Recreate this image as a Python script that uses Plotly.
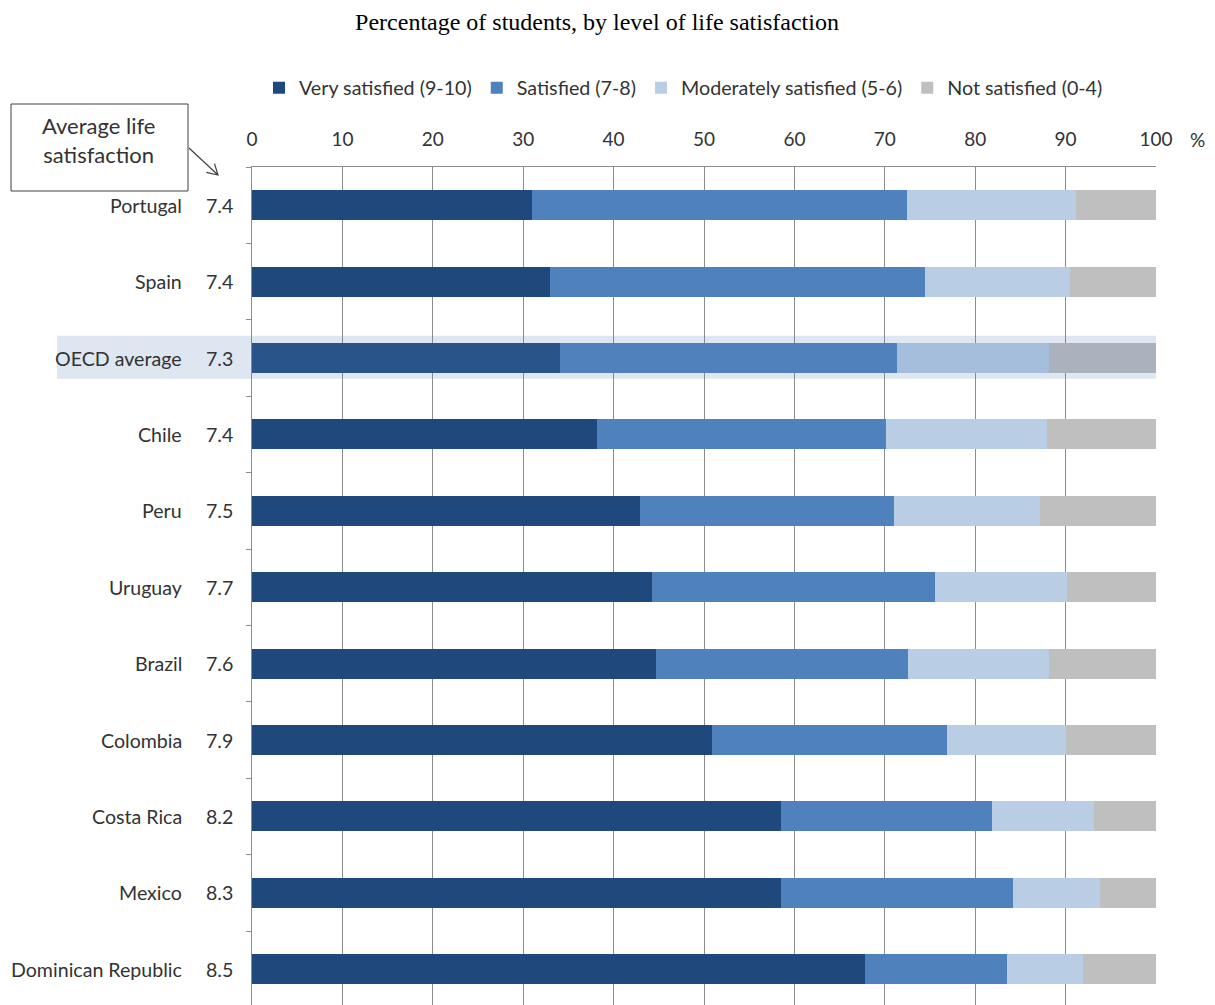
import plotly.graph_objects as go

countries = ["Portugal", "Spain", "OECD average", "Chile", "Peru", "Uruguay",
             "Brazil", "Colombia", "Costa Rica", "Mexico", "Dominican Republic"]
avg_satisfaction = ["7.4", "7.4", "7.3", "7.4", "7.5", "7.7", "7.6", "7.9", "8.2", "8.3", "8.5"]

very_satisfied = [31.0, 33.0, 34.1, 38.2, 42.9, 44.3, 44.7, 50.9, 58.5, 58.5, 67.8]
satisfied = [41.4, 41.4, 37.2, 31.9, 28.1, 31.2, 27.9, 26.0, 23.4, 25.7, 15.7]
moderately_satisfied = [18.7, 16.1, 16.9, 17.8, 16.2, 14.7, 15.6, 13.1, 11.2, 9.6, 8.4]
not_satisfied = [8.9, 9.5, 11.8, 12.1, 12.8, 9.8, 11.8, 10.0, 6.9, 6.2, 8.1]

series_names = ["Very satisfied (9-10)", "Satisfied (7-8)",
                "Moderately satisfied (5-6)", "Not satisfied (0-4)"]
series_values = [very_satisfied, satisfied, moderately_satisfied, not_satisfied]
colors = ["#1f497d", "#4f81bd", "#b9cde5", "#bfbfbf"]

x_ticks = [0, 10, 20, 30, 40, 50, 60, 70, 80, 90, 100]

# page has an 8px body margin: figure is drawn at page offset (8, 8)
OFF = 8
W, H = 1215 - OFF, 1005 - OFF
L = 252 - OFF
T = 167 - OFF
R = W - (1156 - OFF)
B = 0
PW, PH = W - L - R, H - T - B
ROW = 76.4


def px_x(p):  # page pixel -> paper x
    return (p - OFF - L) / PW


def px_y(p):  # page pixel -> paper y
    return (H - B - (p - OFF)) / PH


FONT = "Lato, 'Open Sans', sans-serif"
TXT = "#333333"

fig = go.Figure()
for name, vals, col in zip(series_names, series_values, colors):
    fig.add_trace(go.Bar(
        y=countries, x=vals, name=name, orientation="h",
        marker=dict(color=col, line=dict(width=0)),
    ))

annotations = []
for c, v in zip(countries, avg_satisfaction):
    annotations.append(dict(x=px_x(184), y=c, xref="paper", yref="y", text=c,
                            showarrow=False, xanchor="right", yanchor="middle",
                            font=dict(family=FONT, size=19.6, color=TXT)))
    annotations.append(dict(x=px_x(235), y=c, xref="paper", yref="y", text=v,
                            showarrow=False, xanchor="right", yanchor="middle",
                            font=dict(family=FONT, size=19.6, color=TXT)))

annotations.append(dict(x=px_x(1197), y=px_y(140), xref="paper", yref="paper", text="%",
                        showarrow=False, xanchor="center", yanchor="middle",
                        font=dict(family=FONT, size=19, color=TXT)))
annotations.append(dict(x=px_x(98), y=px_y(140), xref="paper", yref="paper",
                        text="Average life<br>satisfaction",
                        showarrow=False, xanchor="center", yanchor="middle",
                        font=dict(family=FONT, size=22, color=TXT)))

# arrow from box to values column
tail = (189, 148)
tip = (218, 175)
arm1 = (214.5, 163.6)
arm2 = (206.3, 172.3)
path = (f"M {px_x(tail[0])},{px_y(tail[1])} L {px_x(tip[0])},{px_y(tip[1])} "
        f"M {px_x(arm1[0])},{px_y(arm1[1])} L {px_x(tip[0])},{px_y(tip[1])} "
        f"L {px_x(arm2[0])},{px_y(arm2[1])}")

oecd_idx = countries.index("OECD average")
shapes = [
    dict(type="rect", xref="paper", yref="y", x0=px_x(57), x1=1.0,
         y0=oecd_idx - 0.29, y1=oecd_idx + 0.27,
         fillcolor="rgba(84,130,187,0.2)", line=dict(width=0), layer="above"),
    dict(type="rect", xref="paper", yref="paper", x0=px_x(11), x1=px_x(188),
         y0=px_y(191), y1=px_y(104), line=dict(color="#404040", width=1),
         fillcolor="rgba(0,0,0,0)"),
    dict(type="path", xref="paper", yref="paper", path=path,
         line=dict(color="#404040", width=1.2)),
]

fig.update_layout(
    width=W, height=H,
    margin=dict(l=L, r=R, t=T, b=B, pad=0),
    paper_bgcolor="white", plot_bgcolor="white",
    barmode="stack", bargap=0.607,
    title=dict(text="Percentage of students, by level of life satisfaction",
               x=(597 - OFF) / W, xanchor="center", xref="container",
               y=1 - (22 - OFF) / H, yanchor="middle", yref="container",
               font=dict(family="'Liberation Serif', 'Times New Roman', serif", size=24, color="black")),
    legend=dict(orientation="h", x=px_x(259), xanchor="left", y=px_y(88), yanchor="middle",
                font=dict(family=FONT, size=19.7, color=TXT), traceorder="normal",
                bgcolor="rgba(0,0,0,0)", itemwidth=30),
    xaxis=dict(side="top", range=[0, 100], tickvals=x_ticks,
               ticktext=[str(t) for t in x_ticks],
               showgrid=True, gridcolor="#8c8c8c", gridwidth=1,
               showline=True, linecolor="#8c8c8c", linewidth=1,
               ticks="", ticklabelstandoff=12, zeroline=False,
               tickfont=dict(family=FONT, size=19, color=TXT), fixedrange=True),
    yaxis=dict(type="category", categoryorder="array", categoryarray=countries,
               range=[-0.5 + PH / ROW, -0.5], showticklabels=False,
               showline=True, linecolor="#8c8c8c", linewidth=1,
               ticks="outside", tickson="boundaries", ticklen=5, tickcolor="#8c8c8c",
               showgrid=False, fixedrange=True),
    annotations=annotations,
    shapes=shapes,
    showlegend=True,
)

fig.write_html("out.html")
